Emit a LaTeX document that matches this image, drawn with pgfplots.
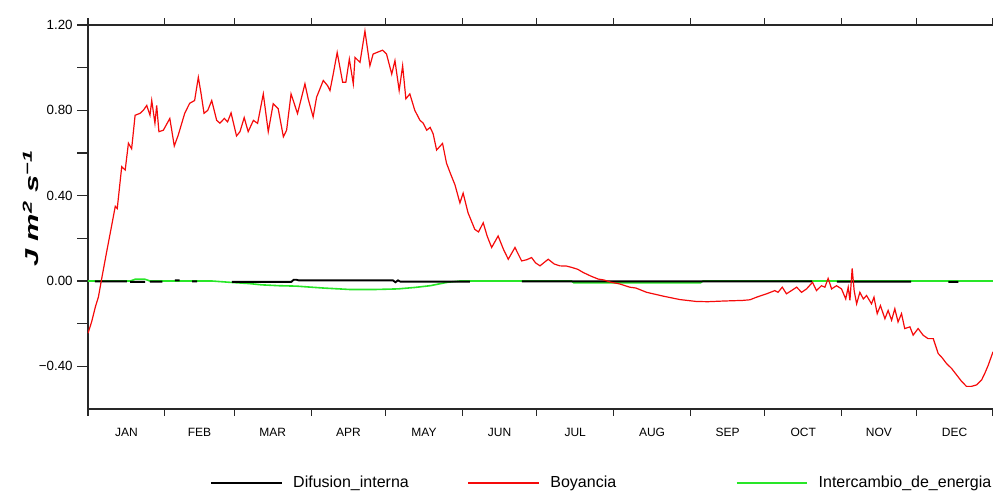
\documentclass[border=0pt]{standalone}
\usepackage{pgfplots}
\pgfplotsset{compat=1.18}
\usepackage{fontspec}
\setmainfont{Liberation Sans}
\usepackage{graphicx}
\definecolor{lgreen}{RGB}{40,230,40}
\definecolor{myred}{RGB}{245,10,10}
\definecolor{axgray}{RGB}{40,40,40}
\begin{document}
\begin{tikzpicture}
\useasboundingbox (-66pt,-63.75pt) rectangle (678.75pt,306.75pt);
\begin{axis}[
  scale only axis,
  width=678.75pt, height=288pt,
  xmin=0, xmax=365, ymin=-0.6, ymax=1.2,
  axis x line*=box, axis y line*=left,
  axis line style={axgray, line width=1pt},
  every tick/.style={axgray, line width=0.9pt},
  tick align=outside,
  major tick length=5pt,
  xtick={0,31,59,90,120,151,181,212,243,273,304,334,365},
  xticklabels={},
  extra x ticks={15.5,45,74.5,105,135.5,166,196.5,227.5,258,288.5,319,349.5},
  extra x tick labels={JAN,FEB,MAR,APR,MAY,JUN,JUL,AUG,SEP,OCT,NOV,DEC},
  extra x tick style={major tick length=0pt, tick label style={yshift=-11pt}},
  xticklabel style={font=\fontsize{9}{10}\selectfont},
  ytick=\empty,
  extra y ticks={-0.4,-0.2,0,0.2,0.4,0.6,0.8,1.0,1.2},
  extra y tick labels={−0.40,,0.00,,0.40,,0.80,,1.20},
  extra y tick style={major tick length=8pt},
  yticklabel style={font=\fontsize{10}{11}\selectfont},
  ylabel={\scalebox{1.65}[1]{\fontsize{14}{14}\selectfont\bfseries\itshape J m\textsuperscript{2} s\textsuperscript{−1}}},
  ylabel style={at={(axis description cs:-0.063,0.523)}, anchor=center},
  unbounded coords=jump,
  clip=true,
  legend image code/.code={\draw[#1] (0pt,0pt) -- (53pt,0pt);},
  legend style={at={(axis description cs:0,0)}, anchor=west, xshift=91.5pt, yshift=-55.5pt,
    draw=none, fill=none, inner sep=0pt, legend columns=3,
    font=\fontsize{12}{13}\selectfont,
    /tikz/every odd column/.append style={column sep=6pt},
    /tikz/every even column/.append style={column sep=42pt}},
]
\addlegendimage{black, line width=1.2pt}
\addlegendentry{Difusion\_interna}
\addlegendimage{myred, line width=1.2pt}
\addlegendentry{\makebox[95pt][l]{Boyancia}}
\addlegendimage{lgreen, line width=1.2pt}
\addlegendentry{Intercambio\_de\_energia}

% Intercambio_de_energia (green)
\addplot[lgreen, line width=1.2pt, forget plot] coordinates {
(0,0) (17,0) (19,0.008) (23,0.008) (25,0) (50,0) (57,-0.006) (65,-0.012) (70,-0.018) (77,-0.022) (84,-0.024)
(95,-0.033) (106,-0.04) (115,-0.04) (125,-0.037) (132,-0.03) (138,-0.022) (145,-0.006) (150,0)
(195,0) (196,-0.009) (247,-0.009) (248,0) (365,0)
};
% Difusion_interna (black)
\addplot[black, line width=1.4pt, forget plot] coordinates {
(2.8,-0.002) (15.7,-0.002) (16,nan)
(17,-0.004) (23,-0.004) (24,nan)
(25,-0.003) (30,-0.003) (31,nan)
(35,0.003) (37,0.003) (38,nan)
(42,-0.002) (44,-0.002) (45,nan)
(58,-0.004) (82,-0.004) (83,0.006) (84,0.006) (85,0.003) (123,0.003) (124,-0.006) (125,0.003) (126,-0.003) (154,-0.003) (155,nan)
(175,-0.002) (292,-0.002) (293,nan)
(302,-0.003) (332,-0.003) (333,nan)
(347,-0.004) (351,-0.004)
};
% Boyancia (red)
\addplot[myred, line width=0.9pt, forget plot] coordinates {
(0,-0.245) (1.5,-0.19) (3,-0.12) (4.2,-0.075) (5.5,0.01) (7.5,0.135) (9.5,0.257) (11,0.35) (11.8,0.34)
(13.6,0.536) (15,0.52) (16.3,0.646) (17.6,0.62) (19,0.777) (21,0.786) (22.3,0.80) (23.7,0.823)
(25,0.777) (25.7,0.846) (27,0.74) (27.7,0.823) (28.6,0.70) (30.4,0.707) (33,0.762) (34.8,0.633)
(36.4,0.684) (39,0.786) (41,0.833) (43,0.846) (44.5,0.955) (45.6,0.879) (46.8,0.786) (48.3,0.80)
(49.9,0.846) (51.9,0.753) (53.2,0.74) (55,0.762) (56.3,0.746) (57.7,0.788) (59.9,0.68) (61.3,0.70)
(63,0.766) (64.6,0.70) (66.7,0.753) (68.4,0.739) (70.7,0.877) (72.7,0.70) (74.7,0.831) (76.7,0.808)
(78.8,0.676) (80.1,0.707) (81.9,0.877) (84.5,0.785) (87.5,0.924) (88.8,0.854) (90.8,0.769) (92.2,0.862)
(94.9,0.94) (96.6,0.916) (97.6,0.893) (98.9,0.97) (100.5,1.071) (102.7,0.932) (104,0.932) (105.4,1.04)
(107,0.924) (107.7,1.048) (109.7,1.025) (111.7,1.172) (113.7,1.009) (115,1.064) (118.8,1.082)
(120.4,1.064) (122.5,0.97) (123.8,1.033) (125.5,0.893) (126.9,1.009) (128.2,0.854) (129.8,0.877)
(131.8,0.80) (133.9,0.753) (135.2,0.74) (136.6,0.707) (138,0.72) (139.2,0.69) (140.6,0.614) (143,0.645)
(144.6,0.552) (146.3,0.50) (148,0.451) (150,0.366) (151.3,0.412) (153.3,0.319) (156,0.242) (157.5,0.23)
(159.4,0.273) (161,0.21) (162.8,0.157) (165.4,0.211) (167.5,0.15) (169.5,0.102) (172.2,0.157) (174.9,0.094)
(177,0.10) (178.9,0.11) (180.5,0.085) (182.3,0.071) (185.6,0.102) (188,0.08) (190.3,0.071) (193,0.07)
(195,0.064) (197.5,0.055) (199.7,0.04) (203,0.022) (205.8,0.009) (208,0.005) (211,-0.006) (214.5,-0.014)
(218.5,-0.029) (221,-0.033) (225.3,-0.053) (232,-0.071) (238.7,-0.087) (245.4,-0.096) (250,-0.097)
(256,-0.094) (264,-0.091) (267,-0.088) (269.6,-0.076) (273.7,-0.06) (277,-0.045) (278.3,-0.053)
(280,-0.029) (281.7,-0.06) (283.7,-0.045) (285.8,-0.029) (287.8,-0.053) (289.8,-0.037) (292.2,-0.006)
(293.8,-0.045) (295.8,-0.022) (297.2,-0.029) (298.5,0.012) (299.9,-0.037) (301.9,-0.022) (303.9,-0.037)
(305.6,-0.084) (306.6,-0.029) (307.3,-0.091) (308.2,0.059) (309,-0.045) (310,-0.107) (311.3,-0.053)
(312.7,-0.084) (314,-0.068) (316,-0.107) (317,-0.076) (318.3,-0.153) (319.6,-0.115) (321.4,-0.177)
(322.7,-0.138) (324.1,-0.184) (325.4,-0.13) (326.7,-0.192) (328.1,-0.153) (329.4,-0.223) (331.5,-0.215)
(332.8,-0.254) (334.8,-0.223) (336.8,-0.254) (338.8,-0.27) (340.9,-0.27) (342.9,-0.34) (344.5,-0.36)
(346.2,-0.386) (348.3,-0.41) (350.3,-0.44) (352.3,-0.47) (354.3,-0.494) (356.3,-0.494) (358.4,-0.487)
(360.4,-0.464) (361.8,-0.43) (363.1,-0.394) (365,-0.332)
};
\end{axis}
\end{tikzpicture}
\end{document}
